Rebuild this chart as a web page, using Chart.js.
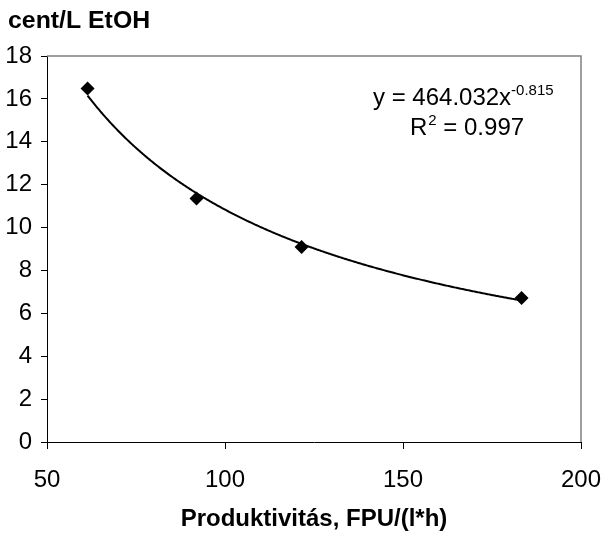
<!DOCTYPE html>
<html>
<head>
<meta charset="utf-8">
<script src="https://cdn.jsdelivr.net/npm/chart.js@4.4.1/dist/chart.umd.min.js"></script>
<style>
  html, body { margin: 0; padding: 0; background: #fff; }
  #wrap { width: 605px; height: 535px; }
</style>
</head>
<body>
<div id="wrap"><canvas id="chart" width="605" height="535"></canvas></div>
<script>
// data
const productivity = [61.4, 92.0, 121.5, 183.3];
const costCents = [16.48, 11.35, 9.09, 6.72];
const xTicks = [50, 100, 150, 200];
const yTicks = [0, 2, 4, 6, 8, 10, 12, 14, 16, 18];
const yTitle = 'cent/L EtOH';
const xTitle = 'Produktivitás, FPU/(l*h)';
const eqText = 'y = 464.032x';
const eqExp = '-0.815';
const r2Text = ' = 0.997';

const FONT = '"Liberation Sans", Arial, sans-serif';

// least squares power fit, ln y = ln a + b ln x (same as the excel trendline)
function fitPower(xs, ys) {
    const lx = xs.map(Math.log);
    const ly = ys.map(Math.log);
    const n = xs.length;
    const mx = lx.reduce((s, v) => s + v, 0) / n;
    const my = ly.reduce((s, v) => s + v, 0) / n;
    let sxy = 0, sxx = 0;
    for (let i = 0; i < n; i++) {
        sxy += (lx[i] - mx) * (ly[i] - my);
        sxx += (lx[i] - mx) * (lx[i] - mx);
    }
    const b = sxy / sxx;
    return { a: Math.exp(my - b * mx), b: b };
}

const fit = fitPower(productivity, costCents);

const trendPlugin = {
    id: 'trend',
    beforeDatasetsDraw(chart) {
        const xs = chart.scales.x, ys = chart.scales.y, ctx = chart.ctx;
        const p0 = xs.getPixelForValue(Math.min(...productivity));
        const p1 = xs.getPixelForValue(Math.max(...productivity));
        ctx.save();
        ctx.beginPath();
        for (let px = p0; px <= p1; px += 1) {
            const v = xs.getValueForPixel(px);
            const py = ys.getPixelForValue(fit.a * Math.pow(v, fit.b));
            if (px === p0) ctx.moveTo(px, py); else ctx.lineTo(px, py);
        }
        ctx.strokeStyle = '#000';
        ctx.lineWidth = 2;
        ctx.stroke();
        ctx.restore();
    }
};

const decorPlugin = {
    id: 'decor',
    afterDraw(chart) {
        const ctx = chart.ctx, a = chart.chartArea;
        ctx.save();
        // plot area frame, top and right side
        ctx.strokeStyle = '#808080';
        ctx.lineWidth = 1.5;
        ctx.beginPath();
        ctx.moveTo(a.left, a.top);
        ctx.lineTo(a.right, a.top);
        ctx.lineTo(a.right, a.bottom);
        ctx.stroke();

        ctx.fillStyle = '#000';
        ctx.textBaseline = 'alphabetic';
        ctx.textAlign = 'left';
        // y axis title sits above the axis, drawn a bit wider like the excel original
        ctx.save();
        ctx.translate(8, 28);
        ctx.scale(1.08, 1);
        ctx.font = 'bold 23px ' + FONT;
        ctx.fillText(yTitle, 0, 0);
        ctx.restore();

        // trendline equation
        ctx.font = '24px ' + FONT;
        ctx.fillText(eqText, 373, 105);
        let w = ctx.measureText(eqText).width;
        ctx.font = '15px ' + FONT;
        ctx.fillText(eqExp, 373 + w, 95);

        ctx.font = '24px ' + FONT;
        ctx.fillText('R', 410, 135);
        w = ctx.measureText('R').width;
        ctx.font = '15px ' + FONT;
        ctx.fillText('2', 410 + w + 1, 125);
        const w2 = ctx.measureText('2').width;
        ctx.font = '24px ' + FONT;
        ctx.fillText(r2Text, 410 + w + w2 + 1, 135);
        ctx.restore();
    }
};

new Chart(document.getElementById('chart'), {
    type: 'scatter',
    data: {
        datasets: [{
            data: productivity.map((x, i) => ({ x: x, y: costCents[i] })),
            pointStyle: 'rectRot',
            pointRadius: 7,
            backgroundColor: '#000',
            borderColor: '#000',
            borderWidth: 0
        }]
    },
    options: {
        responsive: false,
        animation: false,
        layout: { padding: { top: 56, right: 24, bottom: 0, left: 0 } },
        plugins: {
            legend: { display: false },
            tooltip: { enabled: false }
        },
        scales: {
            x: {
                type: 'linear',
                min: xTicks[0],
                max: xTicks[xTicks.length - 1],
                afterBuildTicks: s => { s.ticks = xTicks.map(v => ({ value: v })); },
                afterFit: s => { s.height = 93; s.paddingLeft = 0; s.paddingRight = 0; },
                border: { display: true, color: '#000', width: 1 },
                grid: { drawOnChartArea: false, drawTicks: true, tickLength: 7, color: '#000' },
                ticks: { color: '#000', padding: 17, font: { family: FONT, size: 24 } },
                title: {
                    display: true,
                    text: xTitle,
                    color: '#000',
                    padding: { top: 0, bottom: 1 },
                    font: { family: FONT, size: 24, weight: 'bold' }
                }
            },
            y: {
                type: 'linear',
                min: yTicks[0],
                max: yTicks[yTicks.length - 1],
                afterBuildTicks: s => { s.ticks = yTicks.map(v => ({ value: v })); },
                afterFit: s => { s.width = 47; s.paddingTop = 0; s.paddingBottom = 0; },
                border: { display: true, color: '#000', width: 1 },
                grid: { drawOnChartArea: false, drawTicks: true, tickLength: 6, color: '#000' },
                ticks: { color: '#000', padding: 9, font: { family: FONT, size: 24 } }
            }
        }
    },
    plugins: [trendPlugin, decorPlugin]
});
</script>
</body>
</html>
